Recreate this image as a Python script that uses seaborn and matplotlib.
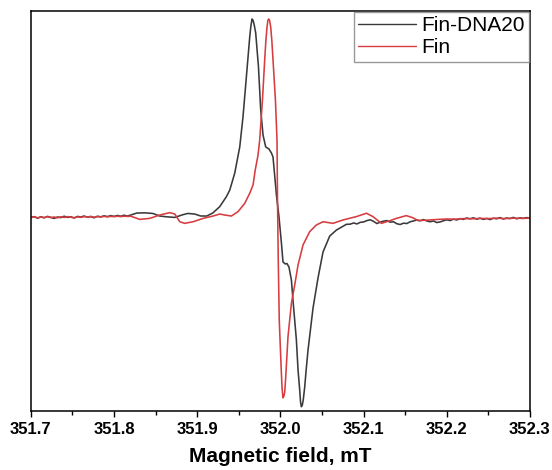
import numpy as np
import pandas as pd
import matplotlib
matplotlib.use("Agg")
import matplotlib.pyplot as plt
import seaborn as sns
from matplotlib.ticker import MultipleLocator

# ---------------- data ----------------
fin_dna20_field = [
    351.700, 351.704, 351.708, 351.712, 351.716, 351.720, 351.724, 351.728, 351.732, 351.736,
    351.740, 351.744, 351.748, 351.752, 351.756, 351.760, 351.764, 351.768, 351.772, 351.776,
    351.780, 351.784, 351.788, 351.792, 351.796, 351.800, 351.804, 351.808, 351.812, 351.816,
    351.820, 351.8273, 351.8369, 351.8465, 351.8549, 351.8633, 351.8730, 351.8814, 351.8886,
    351.8970, 351.9042, 351.9114, 351.9186, 351.9270, 351.9351, 351.9391, 351.9451, 351.9511,
    351.9550, 351.9591, 351.9631, 351.9645, 351.9659, 351.9672, 351.9685, 351.9703, 351.9736,
    351.9763, 351.9791, 351.9823, 351.9863, 351.9892, 351.9911, 351.9931, 351.9952, 351.9983,
    352.0012, 352.0031, 352.0058, 352.0079, 352.0103, 352.0132, 352.0151, 352.0172, 352.0192,
    352.0212, 352.0232, 352.0242, 352.0252, 352.0263, 352.0274, 352.0292, 352.0310, 352.0332,
    352.0352, 352.0392, 352.0452, 352.0512, 352.0593, 352.0673, 352.0793,
    352.084, 352.088, 352.092, 352.096, 352.100, 352.104, 352.108, 352.112, 352.116, 352.120,
    352.124, 352.128, 352.132, 352.136, 352.140, 352.144, 352.148, 352.152, 352.156, 352.160,
    352.164, 352.168, 352.172, 352.176, 352.180, 352.184, 352.188, 352.192, 352.196, 352.200,
    352.204, 352.208, 352.212, 352.216, 352.220, 352.224, 352.228, 352.232, 352.236, 352.240,
    352.244, 352.248, 352.252, 352.256, 352.260, 352.264, 352.268, 352.272, 352.276, 352.280,
    352.284, 352.288, 352.292, 352.296, 352.300,
]
fin_dna20_signal = [
    -0.003, 0.002, -0.006, 0.001, -0.004, 0.003, -0.002, -0.007, 0.000, -0.003,
    0.004, -0.002, 0.001, -0.005, 0.003, 0.000, 0.005, -0.001, 0.002, -0.004,
    0.004, 0.001, 0.006, 0.002, 0.007, 0.003, 0.008, 0.004, 0.009, 0.005,
    0.010, 0.020, 0.021, 0.018, 0.005, 0.001, -0.002, 0.010, 0.018,
    0.015, 0.005, 0.005, 0.020, 0.052, 0.103, 0.136, 0.222, 0.354,
    0.505, 0.707, 0.909, 0.965, 1.000, 0.992, 0.970, 0.929, 0.758,
    0.540, 0.414, 0.354, 0.343, 0.323, 0.303, 0.212, 0.111, 0.000,
    -0.131, -0.227, -0.237, -0.235, -0.253, -0.318, -0.419, -0.520, -0.621,
    -0.773, -0.874, -0.935, -0.958, -0.950, -0.925, -0.859, -0.770, -0.672,
    -0.601, -0.460, -0.308, -0.177, -0.096, -0.066, -0.037,
    -0.036, -0.030, -0.035, -0.027, -0.025, -0.018, -0.014, -0.022, -0.033, -0.026,
    -0.021, -0.018, -0.026, -0.024, -0.034, -0.038, -0.031, -0.033, -0.024, -0.020,
    -0.015, -0.019, -0.013, -0.020, -0.024, -0.020, -0.028, -0.025, -0.019, -0.014,
    -0.018, -0.011, -0.015, -0.008, -0.012, -0.005, -0.009, -0.004, -0.011, -0.006,
    -0.012, -0.007, -0.013, -0.006, -0.009, -0.003, -0.010, -0.005, -0.008, -0.002,
    -0.009, -0.004, -0.007, -0.003, -0.007,
]

fin_field = [
    351.700, 351.704, 351.708, 351.712, 351.716, 351.720, 351.724, 351.728, 351.732, 351.736,
    351.740, 351.744, 351.748, 351.752, 351.756, 351.760, 351.764, 351.768, 351.772, 351.776,
    351.780, 351.784, 351.788, 351.792, 351.796, 351.800, 351.804, 351.808, 351.812, 351.816,
    351.820, 351.8249, 351.8309, 351.8429, 351.8549, 351.8670, 351.8730, 351.8790, 351.8850,
    351.8950, 351.9070, 351.9190, 351.9270, 351.9331, 351.9411, 351.9490, 351.9571, 351.9631,
    351.9671, 351.9697, 351.9731, 351.9751, 351.9784, 351.9811, 351.9825, 351.9839, 351.9849,
    351.9859, 351.9870, 351.9883, 351.9897, 351.9911, 351.9940, 351.9959, 351.9965, 351.9974,
    351.9986, 352.0010, 352.0020, 352.0031, 352.0041, 352.0052, 352.0064, 352.0091, 352.0132,
    352.0172, 352.0212, 352.0272, 352.0352, 352.0433, 352.0512, 352.0632, 352.0752, 352.0913,
    352.1034, 352.1113, 352.1214, 352.1314, 352.1394, 352.1514, 352.1594, 352.1654, 352.1794,
    352.190, 352.200, 352.210, 352.220, 352.230, 352.240, 352.250, 352.260, 352.270, 352.280,
    352.290, 352.300,
]
fin_signal = [
    -0.002, 0.001, -0.004, 0.000, -0.003, 0.002, -0.003, 0.000, -0.004, 0.001,
    -0.002, 0.002, -0.001, -0.004, 0.001, -0.002, 0.002, 0.000, 0.003, -0.001,
    0.002, 0.000, 0.003, 0.001, 0.003, 0.002, 0.004, 0.002, 0.004, 0.003,
    0.004, -0.003, -0.012, -0.007, 0.010, 0.022, 0.015, -0.024, -0.032,
    -0.024, -0.007, 0.005, 0.015, 0.010, 0.005, 0.027, 0.069, 0.120,
    0.162, 0.237, 0.313, 0.389, 0.591, 0.793, 0.890, 0.960, 0.992,
    1.000, 0.992, 0.960, 0.890, 0.793, 0.591, 0.389, 0.086, -0.217,
    -0.520, -0.773, -0.865, -0.913, -0.905, -0.884, -0.807, -0.605, -0.436,
    -0.343, -0.242, -0.141, -0.074, -0.040, -0.024, -0.032, -0.015, 0.002,
    0.019, 0.002, -0.032, -0.019, -0.007, 0.007, -0.004, -0.018, -0.015,
    -0.012, -0.010, -0.011, -0.008, -0.009, -0.007, -0.008, -0.006, -0.008, -0.006,
    -0.007, -0.006,
]

series_names = ["Fin-DNA20", "Fin"]
series_colors = ["#3a3a3a", "#d63c40"]
x_ticks = [351.7, 351.8, 351.9, 352.0, 352.1, 352.2, 352.3]

df = pd.concat([
    pd.DataFrame({"field": fin_dna20_field, "signal": fin_dna20_signal, "sample": series_names[0]}),
    pd.DataFrame({"field": fin_field, "signal": fin_signal, "sample": series_names[1]}),
], ignore_index=True)

# ---------------- style ----------------
sns.set_style("ticks")
plt.rcParams["font.family"] = ["Liberation Sans", "DejaVu Sans"]
plt.rcParams["text.color"] = "black"
plt.rcParams["axes.labelcolor"] = "black"
plt.rcParams["xtick.color"] = "black"

fig = plt.figure(figsize=(5.52, 4.70), dpi=100)
ax = fig.add_axes([0.056, 0.1245, 0.904, 0.852])

sns.lineplot(data=df, x="field", y="signal", hue="sample", hue_order=series_names,
             palette=series_colors, sort=False, estimator=None, linewidth=1.15, ax=ax)

ax.set_xlim(351.7, 352.3)
ax.set_ylim(-0.982, 1.040)
ax.set_xticks(x_ticks)
ax.set_xticklabels([f"{t:.1f}" for t in x_ticks], fontsize=12, fontweight="bold", color="black")
ax.xaxis.set_minor_locator(MultipleLocator(0.05))
ax.tick_params(axis="x", which="major", direction="out", length=4.5, width=1.0, pad=3, colors="black")
ax.tick_params(axis="x", which="minor", direction="out", length=3, width=1.0, colors="black")
ax.set_yticks([])
ax.set_ylabel("")
ax.set_xlabel("Magnetic field, mT", fontsize=15, fontweight="bold", labelpad=7, color="black")

for s in ax.spines.values():
    s.set_visible(True)
    s.set_color("black")
    s.set_linewidth(1.1)

leg = ax.legend(loc="upper right", fontsize=15, frameon=True, fancybox=False,
                borderaxespad=0.05, handlelength=2.8, handletextpad=0.25,
                labelspacing=0.15, borderpad=0.2, title=None)
leg.get_frame().set_edgecolor("#808080")
leg.get_frame().set_linewidth(1.0)
for line in leg.get_lines():
    line.set_linewidth(1.0)
for t in leg.get_texts():
    t.set_color("black")

fig.savefig("out.png", dpi=100)
